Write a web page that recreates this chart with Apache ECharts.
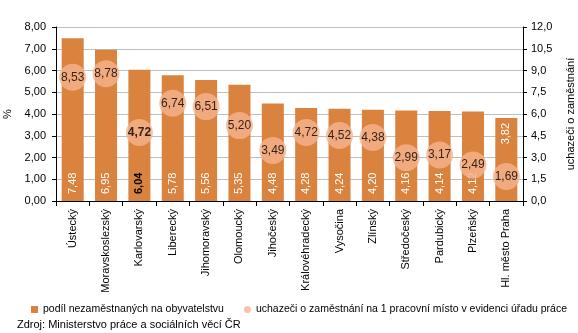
<!DOCTYPE html>
<html>
<head>
<meta charset="utf-8">
<script src="https://cdn.jsdelivr.net/npm/echarts@6/dist/echarts.min.js"></script>
<style>
  html, body { margin: 0; padding: 0; background: #fff; }
  #chart { width: 578px; height: 333px; }
</style>
</head>
<body>
<div id="chart"></div>
<script>
// kraje
const kraje = ["Ústecký", "Moravskoslezský", "Karlovarský", "Liberecký", "Jihomoravský",
  "Olomoucký", "Jihočeský", "Královéhradecký", "Vysočina", "Zlínský",
  "Středočeský", "Pardubický", "Plzeňský", "Hl. město Praha"];
// podíl nezaměstnaných (%)
const podil = [7.48, 6.95, 6.04, 5.78, 5.56, 5.35, 4.48, 4.28, 4.24, 4.20, 4.16, 4.14, 4.12, 3.82];
// uchazeči na 1 pracovní místo
const uchazeci = [8.53, 8.78, 4.72, 6.74, 6.51, 5.20, 3.49, 4.72, 4.52, 4.38, 2.99, 3.17, 2.49, 1.69];
const zvyrazneny = 2; // Karlovarský
const popisekNahore = 13; // Praha - popisek u horního okraje sloupce

const font = "Liberation Sans, Arial, sans-serif";
const cz = (v, d) => v.toFixed(d).replace(".", ",");

let chart = echarts.init(document.getElementById("chart"));
chart.setOption({
  animation: false,
  textStyle: { fontFamily: font },
  grid: { left: 56, right: 55, top: 27, bottom: 132, containLabel: false, outerBoundsMode: "none" },
  legend: {
    top: 299,
    left: 26,
    width: 570,
    orient: "horizontal",
    itemWidth: 7,
    itemHeight: 7,
    itemGap: 20,
    textStyle: { fontSize: 10.5, color: "#000", fontFamily: font },
    data: [
      { name: "podíl nezaměstnaných na obyvatelstvu", icon: "rect" },
      { name: "uchazeči o zaměstnání na 1 pracovní místo v evidenci úřadu práce", icon: "circle" }
    ]
  },
  graphic: [{
    type: "text", left: 17, top: 319,
    style: { text: "Zdroj: Ministerstvo práce a sociálních věcí ČR", fontSize: 11, fill: "#000", fontFamily: font }
  }],
  xAxis: {
    type: "category",
    data: kraje,
    axisLine: { lineStyle: { color: "#000" } },
    axisTick: { show: true, length: 5, lineStyle: { color: "#000" } },
    axisLabel: { rotate: 90, fontSize: 11, color: "#000", margin: 8, interval: 0 }
  },
  yAxis: [{
    type: "value", min: 0, max: 8, interval: 1,
    name: "%", nameLocation: "middle", nameGap: 34, nameRotate: 90,
    nameTextStyle: { fontSize: 11, color: "#000" },
    axisLine: { show: true, lineStyle: { color: "#000" } },
    axisTick: { show: true, length: 4, lineStyle: { color: "#000" } },
    axisLabel: { fontSize: 11, color: "#000", margin: 10, formatter: v => cz(v, 2) },
    splitLine: { lineStyle: { color: "#bfbfbf" } }
  }, {
    type: "value", min: 0, max: 12, interval: 1.5,
    name: "uchazeči o zaměstnání", nameLocation: "middle", nameGap: 42, nameRotate: 90,
    nameTextStyle: { fontSize: 11, color: "#000" },
    axisLine: { show: true, lineStyle: { color: "#000" } },
    axisTick: { show: true, length: 4, lineStyle: { color: "#000" } },
    axisLabel: { fontSize: 11, color: "#000", formatter: v => cz(v, 1) },
    splitLine: { show: false }
  }],
  series: [{
    name: "podíl nezaměstnaných na obyvatelstvu",
    type: "bar",
    barWidth: "66%",
    itemStyle: { color: "#d9833f" },
    label: {
      show: true, position: "insideBottom", rotate: 90, distance: 7,
      align: "left", verticalAlign: "middle",
      color: "#fff", fontSize: 11, formatter: p => cz(p.value, 2)
    },
    data: podil.map((v, i) => {
      if (i === zvyrazneny) return { value: v, label: { color: "#000", fontWeight: "bold" } };
      if (i === popisekNahore) return { value: v, label: { position: "insideTop", align: "right", distance: 5 } };
      return v;
    })
  }, {
    name: "uchazeči o zaměstnání na 1 pracovní místo v evidenci úřadu práce",
    type: "scatter",
    yAxisIndex: 1,
    symbol: "circle",
    symbolSize: 27,
    itemStyle: { color: "#f6b38e" },
    label: {
      show: true, position: "inside", color: "#000", fontSize: 12,
      formatter: p => cz(p.value, 2)
    },
    data: uchazeci.map((v, i) => i === zvyrazneny
      ? { value: v, label: { fontWeight: "bold" } }
      : v)
  }]
});
</script>
</body>
</html>
